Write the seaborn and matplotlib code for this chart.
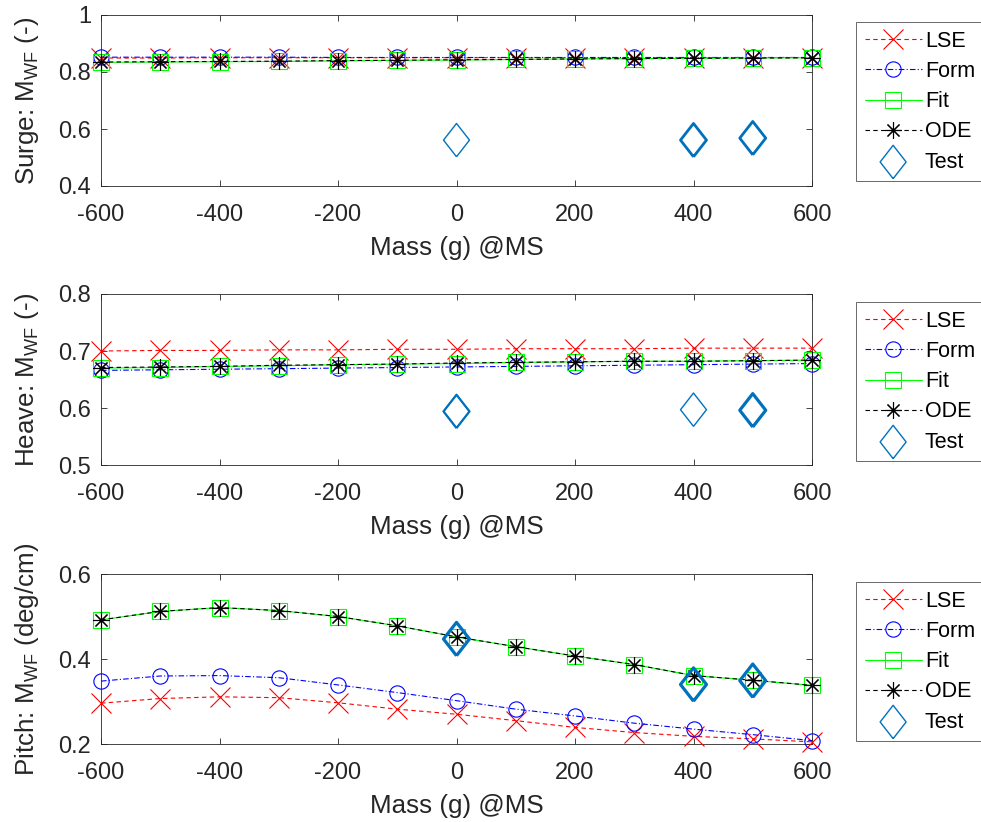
import numpy as np
import pandas as pd
import matplotlib
matplotlib.use("Agg")
import matplotlib.pyplot as plt
import seaborn as sns

# ---------------- data ----------------
mass = [-600, -500, -400, -300, -200, -100, 0, 100, 200, 300, 400, 500, 600]

surge_lse = [0.849, 0.849, 0.850, 0.850, 0.850, 0.850, 0.850, 0.850, 0.850, 0.850, 0.850, 0.850, 0.850]
surge_form = [0.852, 0.852, 0.852, 0.852, 0.851, 0.851, 0.851, 0.851, 0.851, 0.851, 0.851, 0.851, 0.851]
surge_fit = [0.834, 0.835, 0.836, 0.837, 0.839, 0.841, 0.842, 0.844, 0.846, 0.847, 0.848, 0.849, 0.850]
surge_ode = [0.835, 0.836, 0.837, 0.838, 0.840, 0.841, 0.843, 0.844, 0.846, 0.847, 0.848, 0.849, 0.850]

heave_lse = [0.700, 0.701, 0.701, 0.702, 0.702, 0.703, 0.703, 0.704, 0.704, 0.704, 0.705, 0.705, 0.705]
heave_form = [0.666, 0.667, 0.668, 0.669, 0.670, 0.671, 0.672, 0.673, 0.674, 0.675, 0.676, 0.677, 0.678]
heave_fit = [0.670, 0.671, 0.673, 0.674, 0.676, 0.677, 0.678, 0.680, 0.681, 0.682, 0.682, 0.683, 0.684]
heave_ode = [0.671, 0.672, 0.673, 0.675, 0.676, 0.677, 0.679, 0.680, 0.681, 0.682, 0.682, 0.683, 0.684]

pitch_lse = [0.296, 0.307, 0.311, 0.309, 0.297, 0.282, 0.270, 0.255, 0.239, 0.227, 0.218, 0.212, 0.205]
pitch_form = [0.348, 0.360, 0.361, 0.356, 0.339, 0.321, 0.302, 0.282, 0.266, 0.249, 0.235, 0.222, 0.208]
pitch_fit = [0.492, 0.512, 0.521, 0.514, 0.500, 0.478, 0.452, 0.429, 0.407, 0.387, 0.361, 0.350, 0.338]
pitch_ode = [0.492, 0.512, 0.521, 0.514, 0.500, 0.478, 0.452, 0.429, 0.407, 0.387, 0.361, 0.350, 0.338]

test_mass = [0, 400, 500]
surge_test = [0.561, 0.561, 0.568]
heave_test = [0.594, 0.597, 0.596]
pitch_test = [0.447, 0.340, 0.349]

series_labels = ["LSE", "Form", "Fit", "ODE", "Test"]
ylabels = [r"Surge: M$_{\mathrm{WF}}$ (-)", r"Heave: M$_{\mathrm{WF}}$ (-)",
           r"Pitch: M$_{\mathrm{WF}}$ (deg/cm)"]
xlabel = "Mass (g) @MS"
xticks = [-600, -400, -200, 0, 200, 400, 600]
yticks = [[0.4, 0.6, 0.8, 1.0], [0.5, 0.6, 0.7, 0.8], [0.2, 0.4, 0.6]]
ytick_labels = [["0.4", "0.6", "0.8", "1"], ["0.5", "0.6", "0.7", "0.8"], ["0.2", "0.4", "0.6"]]
ylims = [(0.4, 1.0), (0.5, 0.8), (0.2, 0.6)]

# ---------------- styles ----------------
sns.set_style("ticks")
plt.rcParams["font.family"] = ["Liberation Sans", "DejaVu Sans"]
plt.rcParams["mathtext.fontset"] = "custom"
plt.rcParams["mathtext.rm"] = "Liberation Sans"
plt.rcParams["mathtext.it"] = "Liberation Sans:italic"
plt.rcParams["mathtext.bf"] = "Liberation Sans:bold"

AX_COLOR = "#262626"
TEST_COLOR = "#0072BD"
line_styles = [
    dict(color="#FF0000", linestyle=(0, (4, 3)), marker="x", markersize=14),
    dict(color="#0000FF", linestyle=(0, (5, 2, 1, 2)), marker="o", markersize=11),
    dict(color="#00FF00", linestyle="-", marker="s", markersize=11),
    dict(color="#000000", linestyle=(0, (4, 3)), marker=(8, 2, 0), markersize=12),
]
diamond = [(0, -0.5), (0.39, 0), (0, 0.5), (-0.39, 0), (0, -0.5)]
# extra (thicker) outline width for some of the test diamonds, per panel
test_thick = [[0.0, 1.0, 1.0], [0.6, 0.0, 1.3], [1.3, 1.3, 1.3]]

fig = plt.figure(figsize=(9.81, 8.22), dpi=100)
W, H = 981, 822
ax_rows = [(15, 186), (294, 465), (574, 744)]
legend_tops = [22, 302, 582]
left_px, right_px = 101, 812

panels = [
    (surge_lse, surge_form, surge_fit, surge_ode, surge_test),
    (heave_lse, heave_form, heave_fit, heave_ode, heave_test),
    (pitch_lse, pitch_form, pitch_fit, pitch_ode, pitch_test),
]

for i, (vals, (top, bot)) in enumerate(zip(panels, ax_rows)):
    ax = fig.add_axes([left_px / W, (H - bot) / H, (right_px - left_px) / W, (bot - top) / H])
    for k in range(4):
        st = line_styles[k]
        df = pd.DataFrame({"mass": mass, "val": vals[k]})
        sns.lineplot(data=df, x="mass", y="val", ax=ax, label=series_labels[k],
                     color=st["color"], linestyle=st["linestyle"], linewidth=0.8,
                     marker=st["marker"], markersize=st["markersize"],
                     markerfacecolor="none", markeredgecolor=st["color"],
                     markeredgewidth=0.8, sort=False, clip_on=False, zorder=3 + k)
    tdf = pd.DataFrame({"mass": test_mass, "val": vals[4]})
    sns.scatterplot(data=tdf, x="mass", y="val", ax=ax, label=series_labels[4],
                    marker=diamond, s=24 ** 2, facecolor="none", edgecolor=TEST_COLOR,
                    linewidth=1.0, zorder=8, clip_on=False)
    for j, extra in enumerate(test_thick[i]):
        if extra > 0:
            sdf = tdf.iloc[[j]]
            sns.scatterplot(data=sdf, x="mass", y="val", ax=ax, marker=diamond,
                            s=24 ** 2, facecolor="none", edgecolor=TEST_COLOR,
                            linewidth=1.0 + extra, zorder=8, clip_on=False, legend=False)

    ax.set_xlim(-600, 600)
    ax.set_ylim(*ylims[i])
    ax.set_xticks(xticks)
    ax.set_xticklabels([str(t) for t in xticks])
    ax.set_yticks(yticks[i])
    ax.set_yticklabels(ytick_labels[i])
    ax.tick_params(direction="in", length=4, width=0.6, color=AX_COLOR,
                   labelcolor=AX_COLOR, labelsize=17, top=True, right=True)
    ax.tick_params(axis="x", pad=13)
    ax.tick_params(axis="y", pad=7)
    for sp in ax.spines.values():
        sp.set_visible(True)
        sp.set_color(AX_COLOR)
        sp.set_linewidth(0.6)
    ax.set_xlabel(xlabel, fontsize=18.7, color=AX_COLOR)
    ax.set_ylabel(ylabels[i], fontsize=18.7, color=AX_COLOR)
    ax.xaxis.set_label_coords(0.5, -0.293)
    ax.yaxis.set_label_coords(-0.084, 0.5)

    leg = ax.legend(loc="upper left", bbox_to_anchor=(856 / W, 1 - legend_tops[i] / H),
                    bbox_transform=fig.transFigure, borderaxespad=0, frameon=True,
                    fancybox=False, fontsize=15.5, handlelength=2.65, handletextpad=0.15,
                    labelspacing=0.43, borderpad=0.4, numpoints=1, scatterpoints=1)
    leg.get_frame().set_edgecolor(AX_COLOR)
    leg.get_frame().set_linewidth(0.6)
    for t in leg.get_texts():
        t.set_color("#000000")

fig.savefig("out.png", dpi=100)
